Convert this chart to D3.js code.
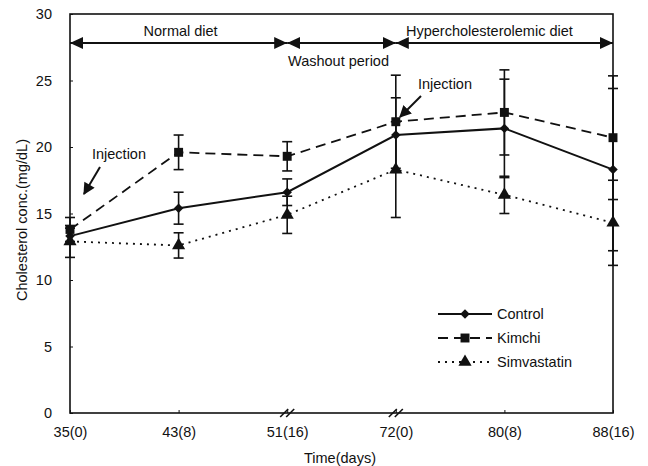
<!DOCTYPE html>
<html><head><meta charset="utf-8">
<script src="https://cdn.jsdelivr.net/npm/d3@7"></script>
<style>body{margin:0;background:#fff}svg{display:block}text{font-family:"Liberation Sans",Arial,sans-serif;fill:#111}</style>
</head><body><svg id="c" width="648" height="466"></svg>
<script>
const categories = ["35(0)","43(8)","51(16)","72(0)","80(8)","88(16)"];
const controlMean = [13.3,15.4,16.6,20.9,21.4,18.3];
const controlErr  = [0.6,1.2,1.0,2.8,3.7,6.1];
const kimchiMean  = [13.8,19.6,19.3,21.9,22.6,20.7];
const kimchiErr   = [0.9,1.3,1.1,3.5,3.2,4.65];
const simMean     = [12.9,12.6,14.9,18.3,16.4,14.3];
const simErr      = [1.2,0.95,1.4,3.6,1.4,3.2];
const yTicks = [0,5,10,15,20,25,30];
const periods = [
  {label:"Normal diet", from:0, to:2, above:true, dx:2},
  {label:"Washout period", from:2, to:3, above:false, dx:-3},
  {label:"Hypercholesterolemic diet", from:3, to:5, above:true, dx:-15}
];
const breaks = [2,3];
const injections = [0,3];

const FS = "14.5px";
const svg = d3.select("#c");
const L=70,R=613,T=14,B=413;
const x = d3.scalePoint().domain(categories).range([L,R]);
const y = d3.scaleLinear().domain([0,30]).range([B,T]);

// frame
svg.append("rect").attr("x",L).attr("y",T).attr("width",R-L).attr("height",B-T)
  .attr("fill","none").attr("stroke","#111").attr("stroke-width",1.6);

// y axis
const ya = svg.append("g").attr("transform",`translate(${L},0)`)
  .call(d3.axisLeft(y).tickValues(yTicks).tickSize(-3).tickPadding(18));
ya.select(".domain").remove();
ya.selectAll("text").style("font-size",FS);
ya.selectAll("line").attr("stroke","#111");
// x axis
const xa = svg.append("g").attr("transform",`translate(0,${B})`)
  .call(d3.axisBottom(x).tickSize(-3).tickPadding(14));
xa.select(".domain").remove();
xa.selectAll("text").style("font-size",FS);
xa.selectAll("line").attr("stroke","#111");

// axis break marks
breaks.forEach(i=>{
  const cx = x(categories[i]);
  [-3,3].forEach(o=>{
    svg.append("line").attr("x1",cx+o-4).attr("y1",B+4).attr("x2",cx+o+4).attr("y2",B-4)
      .attr("stroke","#111").attr("stroke-width",1.6);
  });
});

svg.append("text").attr("x",340).attr("y",463).attr("text-anchor","middle").style("font-size",FS).text("Time(days)");
svg.append("text").attr("transform",`translate(27,220) rotate(-90)`).attr("text-anchor","middle")
  .style("font-size",FS).text("Cholesterol conc.(mg/dL)");

// period arrows
const defs = svg.append("defs");
defs.append("marker").attr("id","ah").attr("viewBox","0 0 10 10").attr("refX",10).attr("refY",5)
  .attr("markerWidth",13).attr("markerHeight",12).attr("markerUnits","userSpaceOnUse").attr("orient","auto-start-reverse")
  .attr("preserveAspectRatio","none")
  .append("path").attr("d","M0,0L10,5L0,10Z").attr("fill","#111");
const ay = 43;
periods.forEach(p=>{
  const x1=x(categories[p.from]), x2=x(categories[p.to]);
  svg.append("line").attr("x1",x1).attr("x2",x2).attr("y1",ay).attr("y2",ay)
    .attr("stroke","#111").attr("stroke-width",2)
    .attr("marker-start","url(#ah)").attr("marker-end","url(#ah)");
  svg.append("text").attr("x",(x1+x2)/2+p.dx).attr("y",p.above?36:66).attr("text-anchor","middle")
    .style("font-size",FS).text(p.label);
});

// injection labels
defs.append("marker").attr("id","ah2").attr("viewBox","0 0 10 10").attr("refX",9).attr("refY",5)
  .attr("markerWidth",13).attr("markerHeight",12).attr("markerUnits","userSpaceOnUse").attr("orient","auto")
  .append("path").attr("d","M0,0L10,5L0,10Z").attr("fill","#111");
const injPos = [{tx:119,ty:159,x1:100,y1:167,x2:84,y2:194},{tx:445,ty:89,x1:421,y1:96,x2:400,y2:117}];
injections.forEach((i,k)=>{
  const p=injPos[k];
  svg.append("text").attr("x",p.tx).attr("y",p.ty).attr("text-anchor","middle").style("font-size",FS).text("Injection");
  svg.append("line").attr("x1",p.x1).attr("y1",p.y1).attr("x2",p.x2).attr("y2",p.y2)
    .attr("stroke","#111").attr("stroke-width",2).attr("marker-end","url(#ah2)");
});

const series = [
  {name:"Control", mean:controlMean, err:controlErr, dash:null, sym:d3.symbolSquare, size:45, rot:45},
  {name:"Kimchi", mean:kimchiMean, err:kimchiErr, dash:"10,6", sym:d3.symbolSquare, size:80, rot:0},
  {name:"Simvastatin", mean:simMean, err:simErr, dash:"2,5", sym:d3.symbolTriangle, size:75, rot:0}
];
const line = d3.line().x((d,i)=>x(categories[i])).y(d=>y(d));
series.forEach(s=>{
  const g = svg.append("g");
  s.mean.forEach((m,i)=>{
    const cx=x(categories[i]), y1=y(m+s.err[i]), y2=y(m-s.err[i]);
    g.append("line").attr("x1",cx).attr("x2",cx).attr("y1",y1).attr("y2",y2).attr("stroke","#111").attr("stroke-width",1.6);
    [y1,y2].forEach(yy=>g.append("line").attr("x1",cx-5).attr("x2",cx+5).attr("y1",yy).attr("y2",yy).attr("stroke","#111").attr("stroke-width",1.6));
  });
  g.append("path").datum(s.mean).attr("d",line).attr("fill","none").attr("stroke","#111")
    .attr("stroke-width",s.dash?1.8:2).attr("stroke-dasharray",s.dash);
  s.mean.forEach((m,i)=>{
    g.append("path").attr("d",d3.symbol(s.sym,s.size)()).attr("transform",`translate(${x(categories[i])},${y(m)}) rotate(${s.rot})`).attr("fill","#111");
  });
});

// legend
const lg = svg.append("g");
series.forEach((s,k)=>{
  const ly = 314 + k*24;
  lg.append("line").attr("x1",438).attr("x2",492).attr("y1",ly).attr("y2",ly).attr("stroke","#111")
    .attr("stroke-width",s.dash?1.8:2).attr("stroke-dasharray",s.dash);
  lg.append("path").attr("d",d3.symbol(s.sym,s.size)()).attr("transform",`translate(465,${ly}) rotate(${s.rot})`).attr("fill","#111");
  lg.append("text").attr("x",497).attr("y",ly+5).style("font-size",FS).text(s.name);
});
</script></body></html>
